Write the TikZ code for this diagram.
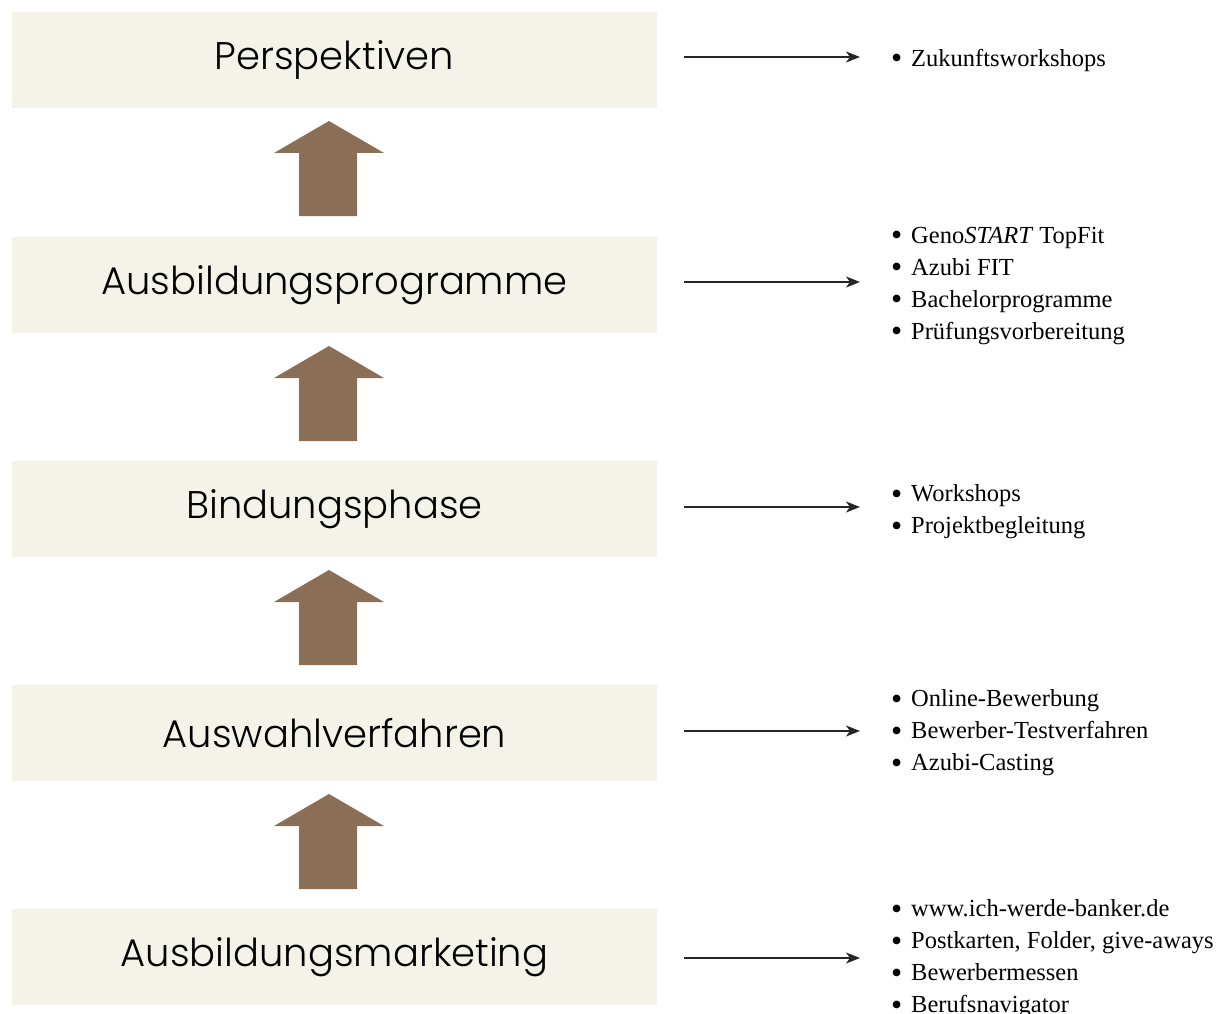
\documentclass[tikz,border=0pt]{standalone}
\usepackage{fontspec}
\setmainfont{Liberation Serif}
\newfontfamily\boxfont{Poppins}[UprightFont={* Light}]
\usetikzlibrary{arrows.meta,calc}
\definecolor{boxfill}{HTML}{F5F3E9}
\definecolor{upbrown}{HTML}{8A6E55}
\tikzset{
  stage/.style={fill=boxfill,draw=none,minimum width=645pt,minimum height=96pt,inner sep=0pt,font=\boxfont\fontsize{38.5}{40}\selectfont},
  items/.style={anchor=west,align=left,inner sep=0pt,font=\fontsize{24.5}{32}\selectfont},
  conn/.style={draw=black!85,line width=1.5pt,-{Stealth[length=14pt,width=11pt,inset=4pt]}},
  uparrow/.style={fill=upbrown,draw=none}
}
\newcommand{\bul}{\makebox[20pt][l]{\raisebox{-2.2pt}{\scalebox{1.3}{\textbullet}}}}
\begin{document}
\begin{tikzpicture}[x=1pt,y=-1pt]
\useasboundingbox (0,0) rectangle (1229,1014);
\foreach \n/\yc/\t in {1/60/Perspektiven,2/285/Ausbildungsprogramme,3/509/Bindungsphase,4/733/Auswahlverfahren,5/957/Ausbildungsmarketing}{
  \node[stage] (b\n) at (334.5,\yc) {\t};
}
% upward arrows
\foreach \ty in {121,346,570,794}{
  \fill[uparrow] (329,\ty) -- (384,\ty+32) -- (357,\ty+32) -- (357,\ty+95) -- (299,\ty+95) -- (299,\ty+32) -- (274,\ty+32) -- cycle;
}
\node[items] (l1) at (891,60) {\bul Zukunftsworkshops};
\node[items] (l2) at (891,286) {\bul Geno\textit{START} TopFit\\\bul Azubi FIT\\\bul Bachelorprogramme\\\bul Prüfungsvorbereitung};
\node[items] (l3) at (891,512) {\bul Workshops\\\bul Projektbegleitung};
\node[items] (l4) at (891,733) {\bul Online-Bewerbung\\\bul Bewerber-Testverfahren\\\bul Azubi-Casting};
\node[items] (l5) at (891,959) {\bul www.ich-werde-banker.de\\\bul Postkarten, Folder, give-aways\\\bul Bewerbermessen\\\bul Berufsnavigator};
\foreach \n/\ay in {1/57,2/282,3/507,4/731,5/958}{
  \coordinate (s\n) at ([xshift=27pt]b\n.east |- 0,\ay);
  \coordinate (e\n) at ([xshift=-31pt]l\n.west |- 0,\ay);
  \draw[conn] (s\n) -- (e\n);
}
\end{tikzpicture}
\end{document}
